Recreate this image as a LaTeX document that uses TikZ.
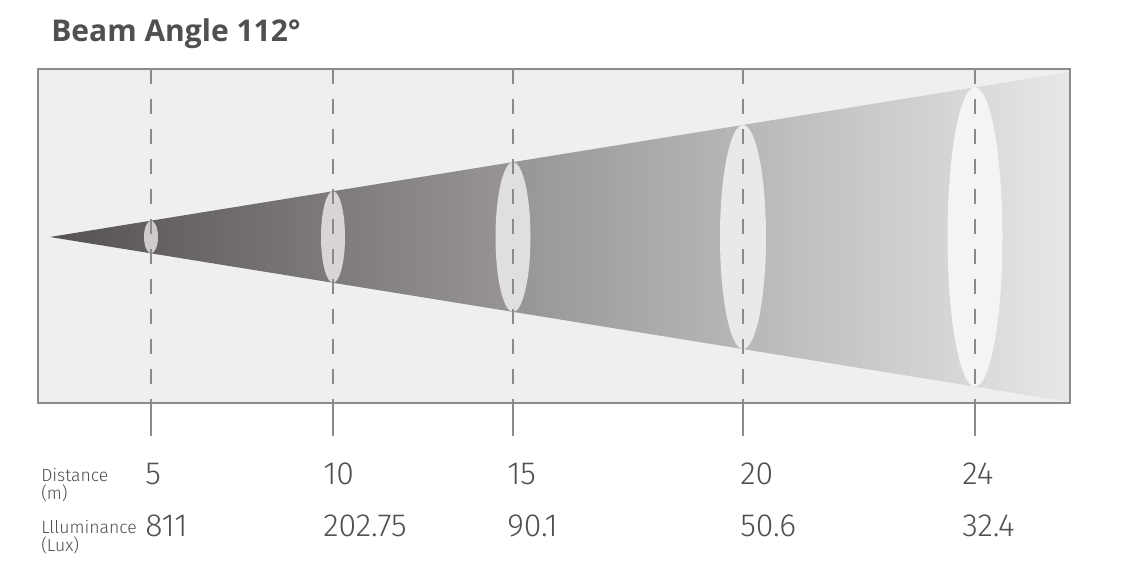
\documentclass[tikz,border=0pt]{standalone}
\usepackage{fontspec}
\usetikzlibrary{shapes.geometric}
\newfontfamily\titlefont{Open Sans}
\newfontfamily\lightfont{Fira Sans Light}
\definecolor{boxfill}{HTML}{EFEFEE}
\definecolor{boxline}{HTML}{8C8C8C}
\definecolor{dashc}{HTML}{8A8A8A}
\definecolor{txt}{HTML}{505050}
\definecolor{conel}{HTML}{555151}
\definecolor{conem}{HTML}{A29B99}
\definecolor{coner}{HTML}{E8E6E6}
\definecolor{ea}{HTML}{CFCBCA}
\definecolor{eb}{HTML}{D8D5D4}
\definecolor{ec}{HTML}{E1DFDE}
\definecolor{ed}{HTML}{EAE9E9}
\definecolor{ee}{HTML}{F4F4F4}
\tikzset{
  titlestyle/.style={anchor=base west,inner sep=0pt,text=txt,font=\titlefont\bfseries\fontsize{22.5}{26}\selectfont},
  labstyle/.style={anchor=base west,inner sep=0pt,text=txt,font=\lightfont\fontsize{13.2}{15}\selectfont},
  numstyle/.style={anchor=base west,inner sep=0pt,text=txt,font=\lightfont\fontsize{24}{28}\selectfont},
  dashline/.style={draw=dashc,line width=1.5pt,dash pattern=on 11.25pt off 11.25pt},
  tickline/.style={draw=dashc,line width=1.5pt},
  spot/.style={ellipse,inner sep=0pt,draw=none}
}
\begin{document}
\begin{tikzpicture}[x=0.75pt,y=-0.75pt]
\useasboundingbox[fill=white] (0,0) rectangle (1122,577);
\node[titlestyle] (title) at (51,42) {Beam Angle 112°};
% frame
\fill[boxfill] (38,69) rectangle (1070,403);
% cone
\shade[left color=conel,middle color=conem,right color=coner] (50,237) -- (1070,72) -- (1070,402) -- cycle;
\draw[boxline,line width=1.2pt] (38,69) rectangle (1070,403);
% spots, dashed lines, ticks
\foreach \x/\rx/\c/\n in {151/7/ea/a,333/12/eb/b,513/17.5/ec/c,743/23/ed/d,975/27.5/ee/e}{
  \pgfmathsetmacro\ry{0.16176*(\x-50)}
  \node[spot,fill=\c,minimum width={2*\rx*0.75pt},minimum height={2*\ry*0.75pt}] (s\n) at (\x,237) {};
  \coordinate (top\n) at (\x,69);
  \coordinate (mid\n) at (\x,403);
  \coordinate (bot\n) at (\x,436);
  \draw[dashline] (top\n) -- (mid\n);
  \draw[tickline] (mid\n) -- (bot\n);
}
% labels
\node[labstyle] (dist) at (41,481) {Distance};
\node[labstyle] (distu) at (41,499) {(m)};
\node[labstyle] (lum) at (41,533) {Llluminance};
\node[labstyle] (lumu) at (41,551) {(Lux)};
% numbers
\node[numstyle] (d5) at (145,484) {5};
\node[numstyle] (d10) at (323,484) {10};
\node[numstyle] (d15) at (507,484) {15};
\node[numstyle] (d20) at (740,484) {20};
\node[numstyle] (d24) at (962,484) {24};
\node[numstyle] (l5) at (145,537) {811};
\node[numstyle] (l10) at (323,537) {202.75};
\node[numstyle] (l15) at (507,537) {90.1};
\node[numstyle] (l20) at (740,537) {50.6};
\node[numstyle] (l24) at (962,537) {32.4};
\end{tikzpicture}
\end{document}
